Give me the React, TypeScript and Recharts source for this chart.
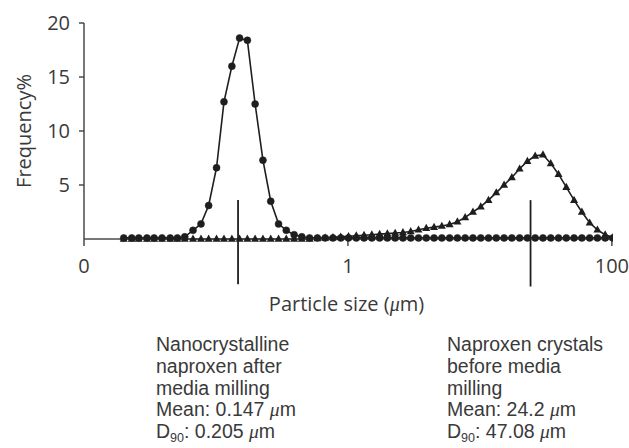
import React from 'react'
import { LineChart, Line, XAxis, YAxis, ReferenceLine } from 'recharts'

// particle size bins (um), log spaced
const sizes = [
  0.020, 0.023, 0.026, 0.030, 0.034, 0.039, 0.045, 0.051, 0.058, 0.067,
  0.077, 0.088, 0.101, 0.115, 0.132, 0.151, 0.173, 0.198, 0.227, 0.260,
  0.298, 0.341, 0.391, 0.447, 0.512, 0.587, 0.672, 0.770, 0.882, 1.010,
  1.157, 1.325, 1.517, 1.738, 1.990, 2.280, 2.611, 2.991, 3.426, 3.923,
  4.494, 5.147, 5.895, 6.752, 7.734, 8.858, 10.15, 11.62, 13.31, 15.25,
  17.46, 20.00, 22.91, 26.24, 30.05, 34.42, 39.42, 45.16, 51.72, 59.24,
  67.85, 77.71, 89.01, 101.95
]

// nanocrystalline naproxen after milling (circles)
const nanoFreq = [
  0.1, 0.1, 0.1, 0.1, 0.1, 0.1, 0.1, 0.1, 0.2, 0.8,
  1.4, 3.1, 6.6, 12.7, 16.0, 18.6, 18.4, 12.5, 7.3, 3.5,
  1.4, 0.8, 0.4, 0.2, 0.1, 0.1, 0.1, 0.1, 0.1, 0.1,
  0.1, 0.1, 0.1, 0.1, 0.1, 0.1, 0.1, 0.1, 0.1, 0.1,
  0.1, 0.1, 0.1, 0.1, 0.1, 0.1, 0.1, 0.1, 0.1, 0.1,
  0.1, 0.1, 0.1, 0.1, 0.1, 0.1, 0.1, 0.1, 0.1, 0.1,
  0.1, 0.1, 0.1, 0.1
]

// naproxen crystals before milling (triangles)
const crystalFreq = [
  0, 0, 0, 0, 0, 0, 0, 0, 0, 0,
  0, 0, 0, 0, 0, 0, 0, 0, 0, 0,
  0, 0, 0, 0, 0, 0.05, 0.1, 0.15, 0.2, 0.25,
  0.3, 0.35, 0.4, 0.45, 0.5, 0.55, 0.6, 0.7, 0.85, 1.0,
  1.1, 1.2, 1.35, 1.6, 2.0, 2.5, 3.0, 3.6, 4.3, 5.0,
  5.7, 6.5, 7.2, 7.7, 7.8, 7.0, 6.0, 4.8, 3.6, 2.5,
  1.5, 0.85, 0.4, 0.15
]

const xTicks = [0.01, 1, 100]
const yTicks = [5, 10, 15, 20]
const nanoMean = 0.147
const crystalMean = 24.2

const data = sizes.map((s, i) => ({ size: s, nano: nanoFreq[i], crystal: crystalFreq[i] }))

const FONT = "'Open Sans', 'Noto Sans', sans-serif"
const NOTE_FONT = "'Liberation Sans', Arial, sans-serif"
const INK = '#1e1e1e'
const AXIS = '#4a4a4a'
const TEXT = '#3a3a3a'

const Triangle = (props: any) => {
  const { cx, cy, index } = props
  if (cx == null || cy == null) return null
  return (
    <polygon
      key={`tri-${index}`}
      points={`${cx},${cy - 4.4} ${cx - 4},${cy + 2.8} ${cx + 4},${cy + 2.8}`}
      fill={INK}
    />
  )
}

const Mu = () => (
  <span style={{ fontFamily: "'Liberation Serif', serif", fontStyle: 'italic' }}>μ</span>
)

const Sub90 = () => (
  <span style={{ fontSize: 12.5, verticalAlign: '-4px', lineHeight: 0 }}>90</span>
)

const blockStyle: React.CSSProperties = {
  position: 'absolute',
  fontFamily: NOTE_FONT,
  fontSize: 19.5,
  lineHeight: '21.8px',
  color: TEXT,
  whiteSpace: 'nowrap'
}

export default function App() {
  return (
    <div style={{ position: 'absolute', left: 0, top: 0, width: 629, height: 448, background: '#fff', fontFamily: FONT }}>
      <LineChart
        width={629}
        height={448}
        data={data}
        margin={{ top: 23, right: 16, left: 0, bottom: 179 }}
      >
        <XAxis
          dataKey="size"
          type="number"
          scale="log"
          domain={[0.01, 102]}
          allowDataOverflow
          ticks={xTicks}
          tickFormatter={(v: number) => (v === 0.01 ? '0' : String(v))}
          tick={{ fill: TEXT, fontSize: 20, fontFamily: FONT }}
          tickSize={7}
          tickMargin={13}
          height={30}
          stroke={AXIS}
          strokeWidth={1.5}
          label={{
            content: (p: any) => {
              const vb = p.viewBox || { x: 84, width: 529 }
              return (
                <text x={vb.x + vb.width / 2 - 2} y={311} textAnchor="middle" fill={TEXT} fontSize={20} fontFamily={FONT}>
                  Particle size (
                  <tspan fontStyle="italic" fontFamily="'Liberation Serif', serif">μ</tspan>
                  m)
                </text>
              )
            }
          }}
        />
        <YAxis
          type="number"
          domain={[0, 20]}
          ticks={yTicks}
          width={84}
          tick={{ fill: TEXT, fontSize: 20, fontFamily: FONT }}
          tickSize={5}
          tickMargin={9}
          stroke={AXIS}
          strokeWidth={1.5}
          label={{
            content: (p: any) => {
              const vb = p.viewBox || { x: 0, y: 23, height: 216 }
              const cx = 23
              const cy = vb.y + vb.height / 2
              return (
                <text x={cx} y={cy} transform={`rotate(-90, ${cx}, ${cy})`} textAnchor="middle" dominantBaseline="central" fill={TEXT} fontSize={20} fontFamily={FONT}>
                  Frequency%
                </text>
              )
            }
          }}
        />
        <ReferenceLine
          segment={[{ x: nanoMean, y: 3.6 }, { x: nanoMean, y: -4.2 }]}
          stroke={INK}
          strokeWidth={1.8}
          ifOverflow="visible"
        />
        <ReferenceLine
          segment={[{ x: crystalMean, y: 3.6 }, { x: crystalMean, y: -4.4 }]}
          stroke={INK}
          strokeWidth={1.8}
          ifOverflow="visible"
        />
        <Line
          dataKey="crystal"
          type="linear"
          stroke={INK}
          strokeWidth={1.6}
          dot={(p: any) => <Triangle key={`tri-${p.index}`} {...p} />}
          isAnimationActive={false}
        />
        <Line
          dataKey="nano"
          type="linear"
          stroke={INK}
          strokeWidth={1.6}
          dot={{ r: 3.5, fill: INK, stroke: INK, strokeWidth: 0.5 }}
          isAnimationActive={false}
        />
      </LineChart>

      <div style={{ ...blockStyle, left: 156, top: 334 }}>
        <div>Nanocrystalline</div>
        <div>naproxen after</div>
        <div>media milling</div>
        <div>Mean: 0.147 <Mu />m</div>
        <div>D<Sub90 />: 0.205 <Mu />m</div>
      </div>
      <div style={{ ...blockStyle, left: 447, top: 334 }}>
        <div>Naproxen crystals</div>
        <div>before media</div>
        <div>milling</div>
        <div>Mean: 24.2 <Mu />m</div>
        <div>D<Sub90 />: 47.08 <Mu />m</div>
      </div>
    </div>
  )
}
